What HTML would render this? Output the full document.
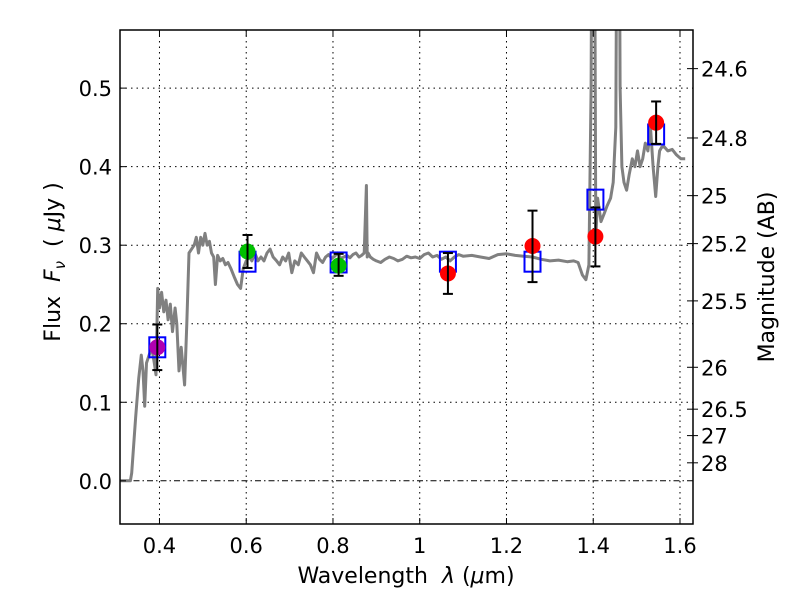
<!DOCTYPE html>
<html><head><meta charset="utf-8"><style>
body{margin:0;background:#fff;}
svg{font-family:"DejaVu Sans","Liberation Sans",sans-serif;}
</style></head><body>
<svg id="chart" width="800" height="600" viewBox="0 0 800 600" xmlns="http://www.w3.org/2000/svg">
<defs><clipPath id="clip"><rect x="120" y="30" width="573" height="494"/></clipPath></defs>
<rect x="0" y="0" width="800" height="600" fill="#fff"/>
<g id="grid"></g>
<g id="plot" clip-path="url(#clip)"></g>
<rect x="120" y="30" width="573" height="494" fill="none" stroke="#000" stroke-width="1.5"/>
<g id="axes"></g>
<text x="406" y="583" font-size="22" text-anchor="middle" xml:space="preserve">Wavelength  <tspan font-style="italic">λ</tspan> (<tspan font-style="italic">μ</tspan>m)</text>
<text transform="translate(60,262) rotate(-90)" font-size="22" text-anchor="middle" xml:space="preserve">Flux  <tspan font-style="italic">F</tspan><tspan font-style="italic" font-size="15" dy="5">ν</tspan><tspan dy="-5">  ( </tspan><tspan font-style="italic">μ</tspan>Jy )</text>
<text transform="translate(774,277) rotate(-90)" font-size="22" text-anchor="middle">Magnitude (AB)</text>
</svg>
<script>
const xTicks=[0.4,0.6,0.8,1.0,1.2,1.4,1.6];
const xTickLabels=["0.4","0.6","0.8","1","1.2","1.4","1.6"];
const yTicks=[0.0,0.1,0.2,0.3,0.4,0.5];
const yTickLabels=["0.0","0.1","0.2","0.3","0.4","0.5"];
const magTicks=[24.6,24.8,25,25.2,25.5,26,26.5,27,28];
const magTickLabels=["24.6","24.8","25","25.2","25.5","26","26.5","27","28"];
const specWave=[0.31,0.333,0.336,0.345,0.352,0.358,0.362,0.366,0.370,0.376,0.382,0.388,0.392,0.396,0.400,0.405,0.410,0.415,0.420,0.425,0.430,0.436,0.440,0.445,0.450,0.458,0.463,0.468,0.474,0.480,0.485,0.490,0.495,0.500,0.505,0.510,0.515,0.520,0.525,0.529,0.534,0.540,0.546,0.552,0.558,0.565,0.572,0.580,0.587,0.593,0.600,0.607,0.613,0.620,0.627,0.634,0.641,0.648,0.655,0.662,0.670,0.677,0.684,0.691,0.698,0.705,0.712,0.720,0.727,0.734,0.741,0.748,0.755,0.762,0.769,0.776,0.783,0.790,0.797,0.804,0.811,0.818,0.825,0.832,0.839,0.846,0.853,0.860,0.866,0.872,0.877,0.879,0.881,0.886,0.893,0.900,0.910,0.920,0.930,0.940,0.950,0.960,0.970,0.980,0.990,1.000,1.010,1.020,1.030,1.040,1.050,1.060,1.070,1.080,1.090,1.100,1.120,1.140,1.160,1.180,1.200,1.220,1.240,1.260,1.280,1.300,1.320,1.340,1.355,1.365,1.375,1.383,1.390,1.395,1.398,1.402,1.406,1.410,1.418,1.425,1.432,1.440,1.446,1.452,1.456,1.459,1.462,1.466,1.471,1.477,1.483,1.490,1.496,1.502,1.508,1.514,1.520,1.526,1.532,1.538,1.544,1.549,1.553,1.558,1.564,1.572,1.582,1.592,1.602,1.612,1.622,1.64];
const specFlux=[0.0,0.0,0.01,0.08,0.13,0.16,0.14,0.095,0.15,0.16,0.17,0.15,0.135,0.245,0.22,0.24,0.215,0.23,0.205,0.225,0.19,0.22,0.20,0.14,0.17,0.122,0.2,0.29,0.295,0.30,0.31,0.29,0.31,0.30,0.315,0.30,0.305,0.29,0.285,0.25,0.287,0.280,0.283,0.275,0.278,0.27,0.26,0.25,0.245,0.27,0.28,0.285,0.28,0.29,0.28,0.285,0.28,0.29,0.295,0.285,0.28,0.275,0.285,0.28,0.29,0.265,0.28,0.275,0.29,0.285,0.28,0.275,0.265,0.29,0.282,0.278,0.285,0.288,0.283,0.286,0.29,0.283,0.285,0.287,0.284,0.288,0.29,0.285,0.287,0.29,0.376,0.285,0.29,0.285,0.282,0.28,0.278,0.282,0.285,0.283,0.28,0.282,0.286,0.284,0.285,0.283,0.288,0.29,0.285,0.287,0.282,0.285,0.28,0.285,0.288,0.286,0.287,0.285,0.283,0.288,0.289,0.287,0.286,0.285,0.282,0.28,0.281,0.279,0.28,0.278,0.262,0.256,0.275,0.5,0.9,0.9,0.31,0.36,0.33,0.34,0.35,0.36,0.38,0.45,0.9,0.9,0.5,0.40,0.38,0.37,0.39,0.41,0.40,0.42,0.40,0.41,0.43,0.42,0.45,0.40,0.362,0.40,0.42,0.425,0.425,0.42,0.422,0.415,0.41,0.41];
const photWave=[0.395,0.603,0.813,1.065,1.26,1.405,1.545];
const photFlux=[0.170,0.292,0.274,0.264,0.299,0.311,0.456];
const photErrLo=[0.141,0.271,0.261,0.238,0.253,0.273,0.429];
const photErrHi=[0.199,0.313,0.289,0.290,0.344,0.348,0.483];
const photColor=["#b000b0","#00c000","#00c000","#ff0000","#ff0000","#ff0000","#ff0000"];
const modelFlux=[0.170,0.279,0.278,0.279,0.279,0.358,0.441];

const X0=0.309,X1=1.63,PX0=120,PX1=693;
const Y0=-0.055,Y1=0.574,PY0=524,PY1=30;
const sx=v=>PX0+(v-X0)/(X1-X0)*(PX1-PX0);
const sy=v=>PY0+(v-Y0)/(Y1-Y0)*(PY1-PY0);
const NS="http://www.w3.org/2000/svg";
function mk(tag,attrs,parent){const e=document.createElementNS(NS,tag);for(const k in attrs)e.setAttribute(k,attrs[k]);parent.appendChild(e);return e;}
const grid=document.getElementById('grid'),plot=document.getElementById('plot'),axes=document.getElementById('axes');
xTicks.forEach((t,i)=>{const x=sx(t);
 const g=mk('line',{x1:x,x2:x,y1:PY1,y2:PY0,stroke:'#000','stroke-width':1,'stroke-dasharray':'1.5,4'},grid);
 
 
 mk('line',{x1:x,x2:x,y1:PY0,y2:PY0-6,stroke:'#000'},axes);
 mk('line',{x1:x,x2:x,y1:PY1,y2:PY1+6,stroke:'#000'},axes);
 const tx=mk('text',{x:x,y:PY0+29,'font-size':21,'text-anchor':'middle'},axes);tx.textContent=xTickLabels[i];
 
 });
yTicks.forEach((t,i)=>{const y=sy(t);
 const g=mk('line',{x1:PX0,x2:PX1,y1:y,y2:y,stroke:'#000','stroke-width':1,'stroke-dasharray':t===0?'6,3,1.5,3':'1.5,4'},grid);
 
 
 mk('line',{x1:PX0,x2:PX0+6,y1:y,y2:y,stroke:'#000'},axes);
 const tx=mk('text',{x:PX0-8,y:y+8,'font-size':21,'text-anchor':'end'},axes);tx.textContent=yTickLabels[i];
 
 });
magTicks.forEach((m,i)=>{const f=Math.pow(10,(23.9-m)/2.5);const y=sy(f);
 mk('line',{x1:PX1,x2:PX1-6,y1:y,y2:y,stroke:'#000'},axes);
 mk('line',{x1:PX1,x2:PX1+5,y1:y,y2:y,stroke:'#000'},axes);
 const tx=mk('text',{x:PX1+8,y:y+8,'font-size':21},axes);tx.textContent=magTickLabels[i];
 
 });
const pts=specWave.map((w,i)=>sx(w).toFixed(1)+','+sy(specFlux[i]).toFixed(1)).join(' ');
const sp=mk('polyline',{points:pts,fill:'none',stroke:'#808080','stroke-width':3,'stroke-linejoin':'round'},plot);


photWave.forEach((w,i)=>{const x=sx(w);
 const sq=mk('rect',{x:x-8,y:sy(modelFlux[i])-10,width:16,height:20,fill:'none',stroke:'#0000ff','stroke-width':2},plot);
 
 
 const c=mk('circle',{cx:x,cy:sy(photFlux[i]),r:8,fill:photColor[i]},plot);
 
 
 const eb=mk('g',{stroke:'#000','stroke-width':2},plot);
 
 
 mk('line',{x1:x,x2:x,y1:sy(photErrLo[i]),y2:sy(photErrHi[i])},eb);
 mk('line',{x1:x-5,x2:x+5,y1:sy(photErrLo[i]),y2:sy(photErrLo[i])},eb);
 mk('line',{x1:x-5,x2:x+5,y1:sy(photErrHi[i]),y2:sy(photErrHi[i])},eb);});
</script>
</body></html>
